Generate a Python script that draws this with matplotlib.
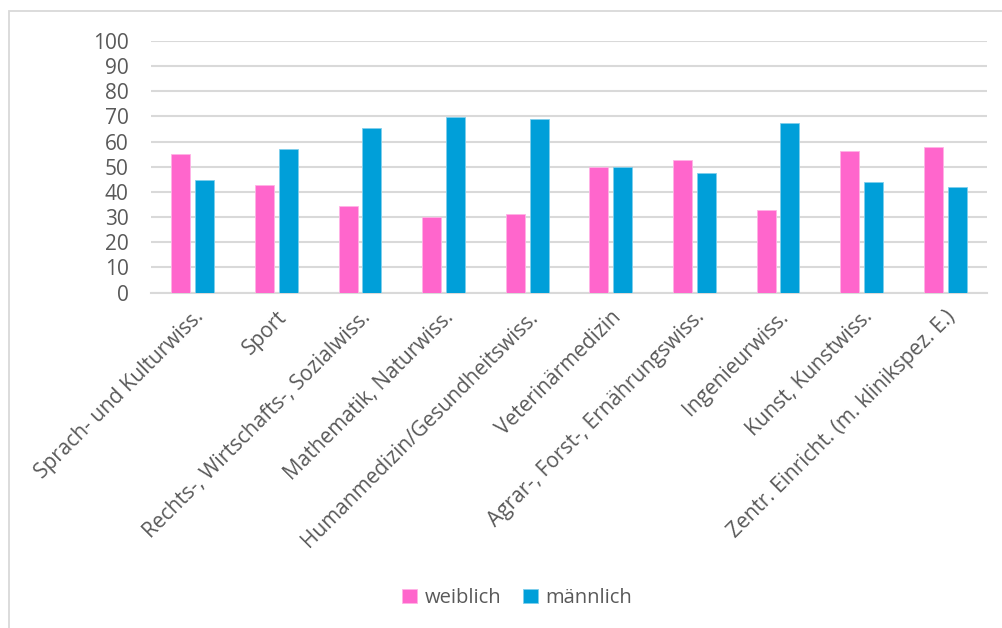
import matplotlib.pyplot as plt
import numpy as np
from matplotlib.patches import Rectangle

# categories and values (percent)
faecher = ["Sprach- und Kulturwiss.", "Sport", "Rechts-, Wirtschafts-, Sozialwiss.",
           "Mathematik, Naturwiss.", "Humanmedizin/Gesundheitswiss.", "Veterinärmedizin",
           "Agrar-, Forst-, Ernährungswiss.", "Ingenieurwiss.", "Kunst, Kunstwiss.",
           "Zentr. Einricht. (m. klinikspez. E.)"]
weiblich = [55.2, 42.8, 34.5, 30.1, 31.1, 50.0, 52.5, 32.7, 56.1, 57.9]
maennlich = [44.8, 57.2, 65.5, 69.9, 68.9, 50.0, 47.5, 67.3, 43.9, 42.1]
y_ticks = list(range(0, 101, 10))

plt.rcParams['font.family'] = ['Open Sans', 'DejaVu Sans']
grau = '#595959'

fig = plt.figure(figsize=(10.02, 6.28), dpi=100)
ax = fig.add_axes([0.1507, 0.534, 0.8343, 0.401])

# frame of the chart area (only left/top visible)
fig.patches.append(Rectangle((9 / 1002, -0.1), 1.2, 1 - 11 / 628 + 0.1, transform=fig.transFigure,
                             fill=False, edgecolor='#d9d9d9', linewidth=1.3))

x = np.arange(len(faecher))
w = 0.227
ax.bar(x - 0.143, weiblich, w, color='#FF66CC', edgecolor='#FFB3E6', linewidth=0.6,
       label='weiblich', zorder=3)
ax.bar(x + 0.143, maennlich, w, color='#009FD9', edgecolor='#80CFEC', linewidth=0.6,
       label='männlich', zorder=3)

ax.set_xlim(-0.5, len(faecher) - 0.5)
ax.set_ylim(0, 100)
ax.set_yticks(y_ticks)
ax.yaxis.grid(True, color='#d9d9d9', linewidth=1.5, zorder=0)
ax.set_axisbelow(True)
for s in ['top', 'right', 'left']:
    ax.spines[s].set_visible(False)
ax.spines['bottom'].set_color('#d9d9d9')
ax.spines['bottom'].set_linewidth(1.5)
ax.tick_params(length=0, labelsize=15, labelcolor=grau)
ax.tick_params(axis='y', pad=16)
ax.set_xticks(x)
ax.set_xticklabels(faecher, rotation=45, ha='right', rotation_mode='anchor')
ax.tick_params(axis='x', pad=10)

leg = fig.legend(loc='center', frameon=False, ncol=2,
                 fontsize=14.5, labelcolor=grau, handlelength=0.75, handleheight=0.75,
                 handletextpad=0.35, columnspacing=1.1)
leg.set_bbox_to_anchor((0.516, 1 - 598 / 628), transform=fig.transFigure)

fig.savefig('out.png', dpi=100, facecolor='white')
